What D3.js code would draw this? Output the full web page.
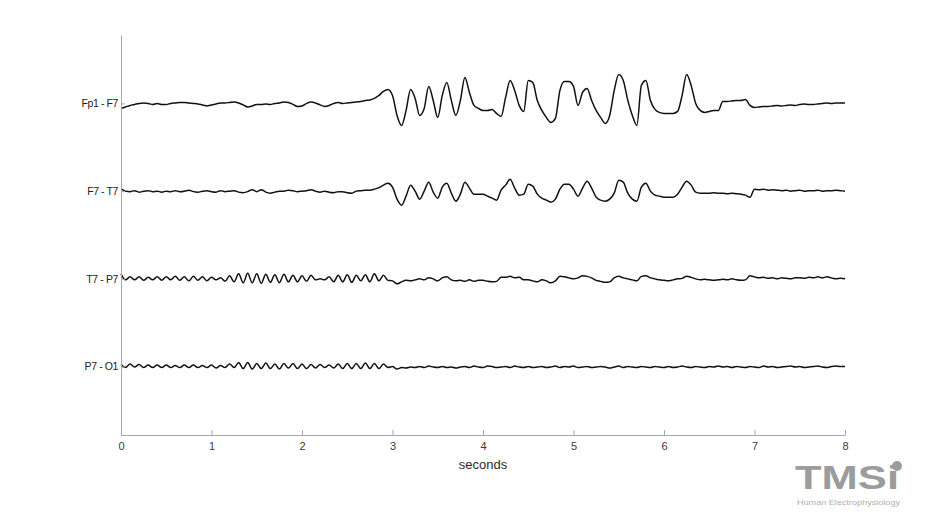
<!DOCTYPE html>
<html>
<head>
<meta charset="utf-8">
<script src="https://cdn.jsdelivr.net/npm/d3@7"></script>
<style>
  body { margin: 0; background: #fff; }
  text { font-family: "Liberation Sans", Arial, sans-serif; }
</style>
</head>
<body>
<div id="my_dataviz"></div>
<script>
// channel names (top to bottom) and x tick labels
var channels = ["Fp1 - F7", "F7 - T7", "T7 - P7", "P7 - O1"];
var secondsTicks = [0, 1, 2, 3, 4, 5, 6, 7, 8];
var sampleStep = 0.05; // seconds between samples

// amplitude per sample (uV, up = positive)
var fp1F7 = [
  -5, -3.5, -2, -1, 0, 0.5, 0, -1, 0, -1,
  -1, 0, 0.5, 1, 1, 0.5, 0, -0.5, -1.5, -2.5,
  -1.5, -0.5, 0.5, 0.5, 1, 1.5, 0.5, -1.5, -3.5, -2.5,
  -1, -1, -0.5, -1, 0, 0.5, 1.5, 1, -1, -3,
  -2.5, 0, 1.5, 0.5, -1.5, -3, -2, 0, 1, 0,
  0.5, 1, 1.5, 2, 3, 3.5, 5, 8, 12, 14,
  8, -12, -22, -7, 14, 5, -12, -5, 17, 3,
  -14, 8, 21, 3, -12, 3, 26, 11, -2, -5,
  -7, -7, -6, -10, -13, 6, 23, 13, -2, -8,
  23, 21, 3, -7, -14, -19, -15, 13, 22, 22,
  17, -2, 11, 15, 3, -7, -14, -20, -12, 13,
  29, 23, 3, -12, -22, 18, 23, 3, -6, -9,
  -10, -10, -10, -8, 8, 29, 18, 0, -7, -9,
  -8, -7, -7, 2, 2, 2.5, 3, 3, 4, -2,
  -4, -3.5, -3, -3, -2.5, -2, -2.5, -2, -1.5, -2,
  -1, -0.5, -1, -1, -0.5, 0, 0.5, 0, 0.5, 0.5,
  0.5
];
var f7T7 = [
  2.5, 0, -0.5, 0.5, -1, 0, 0.5, -0.5, 0, -1,
  0, -0.5, 0.5, -0.5, 0, 1, -0.5, -1, 0, 0.5,
  -0.5, -1, 0.5, -0.5, 0, 0.5, -1, -1.5, -0.5, 1.5,
  -0.5, 1.5, -1, -2, -1, 0, 0, 1, 0.5, -0.5,
  0, 0.5, 1.5, 0, -1, 0, -1, -1.5, -0.5, -0.5,
  -1.5, -2, 0, 0.5, 1, 1, 2, 3.5, 6, 8,
  4, -8, -14, -5, 6, 0, -8, 0, 9, -1,
  -7, 4, 8, -2, -10, -3, 9, 3, -3, -3,
  -3, -5, -7, -9, 1, 6, 12, 3, -4, -3,
  7, 5, -3, -7, -9, -11, -8, 2, 7, 7,
  2, -5, 3, 10, 3, -6, -9, -10, -8, -2,
  11, 9, -2, -8, -10, 4, 8, 0, -4, -5,
  -6, -6, -6, -3, 4, 10, 6, -1, -2, -2,
  -2, -1.5, -2, -2, -2.5, -2, -2.5, -3, -4, -6,
  2, 1.5, 2, 1, 1.5, 1, 0.5, 1, 0, 0.5,
  1, 0, 0.5, 0.5, 1, 0, 0.5, 0.5, 1, 0.5,
  0
];
var t7P7 = [
  5, -1, 2, -1, 2, -1.5, 1.5, -1, 2, -1.5,
  2, -1, 2.5, -1.5, 2, -2, 2.5, -1.5, 2, -2,
  1.5, -1, 1, -2.5, 3, -3, 5, -4, 5.5, -4,
  5, -4.5, 4.5, -3.5, 4, -4, 4.5, -3, 3.5, -3,
  3, -2.5, 3.5, -1, 0, -1, 2, -3, 3.5, -3,
  4, -3.5, 3.5, -2, 4, -3, 5, -2, 3.5, -1.5,
  -2, -5, -3, -1.5, -2, -1, 0, -1, 1, 0,
  -2, 1, 2, -1, -2, -1.5, -2.5, -1, -2.5, -1.5,
  -1.5, -2.5, -3, -2.5, 1.5, 1.5, 2.5, 1, 1.5, -1,
  -1, -2, -3, -1, -2, -4, -2, 2.5, 2, 1,
  0, 1, 3, 2.5, 1, -1.5, -2.5, -3.5, -3, 1,
  2.5, 1, 0, -1, -2, 2.5, 3, 1, 0, -1,
  -1.5, -2, -1, 0, 0.5, 2.5, 1.5, 0, -1, -0.5,
  -1, -1.5, -1, -0.5, -1, 0, -1, -1.5, -1, 3,
  2, 1, 1.5, 0.5, 1, 0, 1, 0.5, 0, 1,
  1, 0.5, 1.5, 1, 2, 1, 2, 1, 0, 0.5,
  0
];
var p7O1 = [
  2, -1, 2.5, -0.5, 2, -1, 1.5, -1, 1.5, -1,
  1.5, -1, 1, -1, 1.5, -1, 1.5, -1, 1, -1,
  1.5, -1.5, 1, -1, 2.5, -1, 4, -2, 4, -2.5,
  3, -2, 3.5, -2, 2.5, -2.5, 3, -1.5, 3, -2,
  2.5, -2, 2, -1.5, 2, -1, 1.5, -1.5, 2.5, -2,
  3, -2, 3, -2, 3.5, -2, 3, -2, 2.5, -1,
  0, -2.5, -1, -1.5, -0.5, -1, 0, -1, 0.5, -0.5,
  -1, 0, -1, -0.5, -1.5, -0.5, 0, -1, 0.5, -0.5,
  -1, 0.5, 0, -1, -0.5, 0, -1, 0.5, -0.5, -1,
  0, -1, -0.5, 0, -1, -0.5, 0.5, -1, 0, -0.5,
  0.5, -1, -0.5, 0, -1, -0.5, 0, -0.5, -1.5, -0.5,
  0.5, -1, 0, -0.5, -1, 0, -0.5, -1, 0, -0.5,
  -1, 0, -1, -0.5, 0.5, -0.5, -1, 0, -0.5, -1,
  0, -0.5, 0.5, -0.5, 0, -1, 0, -0.5, -1, 0,
  -0.5, -1, 0.5, -0.5, 0, -1, -0.5, 0, 0.5, -0.5,
  0, -1, -0.5, 0, 0.5, -0.5, -1, 0, 0.5, 0,
  0
];

var traces = [fp1F7, f7T7, t7P7, p7O1];

var totalWidth = 933, totalHeight = 522;

var svg = d3.select("#my_dataviz")
  .append("svg")
    .attr("width", totalWidth)
    .attr("height", totalHeight);

svg.append("rect")
  .attr("width", totalWidth)
  .attr("height", totalHeight)
  .attr("fill", "#fff");

var x = d3.scaleLinear()
  .domain([0, 8])
  .range([121, 845]);

// one row per channel, axis spans the full plot height
var y = d3.scalePoint()
  .domain(channels)
  .range([35, 435])
  .padding(0.78);

// amplitude around each channel's baseline
var amp = d3.scaleLinear()
  .domain([-50, 50])
  .range([50, -50]);

var line = d3.line()
  .x(function(d) { return x(d.t); })
  .y(function(d) { return d.base + amp(d.v); })
  .curve(d3.curveMonotoneX);

// traces
traces.forEach(function(values, k) {
  var base = y(channels[k]);
  var pts = values.map(function(v, i) {
    return { t: i * sampleStep, v: v, base: base };
  });
  svg.append("path")
    .datum(pts)
    .attr("d", line)
    .attr("fill", "none")
    .attr("stroke", "#111")
    .attr("stroke-width", 1.5)
    .attr("stroke-linejoin", "round");
});

// x axis (ticks pointing inward, MATLAB style)
var xAxis = svg.append("g")
  .attr("transform", "translate(0,435)")
  .call(d3.axisBottom(x)
    .tickValues(secondsTicks)
    .tickFormat(d3.format("d"))
    .tickSizeInner(-5)
    .tickSizeOuter(0)
    .tickPadding(7));

xAxis.select(".domain").attr("stroke", "#a8a8a8");
xAxis.selectAll(".tick line").attr("stroke", "#a8a8a8");
xAxis.selectAll(".tick text")
  .attr("fill", "#3a3a3a")
  .style("font-size", "11px")
  .style("font-family", "'Liberation Sans', Arial, sans-serif");

svg.append("text")
  .attr("x", x(4))
  .attr("y", 469)
  .attr("text-anchor", "middle")
  .attr("fill", "#2a2a2a")
  .style("font-size", "13px")
  .text("seconds");

// y axis with channel labels
var yAxis = svg.append("g")
  .attr("transform", "translate(121,0)")
  .call(d3.axisLeft(y)
    .tickSizeInner(-4)
    .tickSizeOuter(0)
    .tickPadding(3));

yAxis.select(".domain").attr("stroke", "#a8a8a8");
yAxis.selectAll(".tick line").attr("stroke", "#a8a8a8");
yAxis.selectAll(".tick text")
  .attr("fill", "#222")
  .style("font-size", "10.5px")
  .style("letter-spacing", "-0.4px")
  .style("font-family", "'Liberation Sans', Arial, sans-serif");

// TMSi logo
var logo = svg.append("g").attr("fill", "#9c9c9c");
logo.append("text")
  .attr("x", 795)
  .attr("y", 489)
  .attr("textLength", 104)
  .attr("lengthAdjust", "spacingAndGlyphs")
  .style("font-size", "34px")
  .style("font-weight", "bold")
  .text("TMSi");
logo.append("circle")
  .attr("cx", 897)
  .attr("cy", 466)
  .attr("r", 5);
logo.append("text")
  .attr("x", 797)
  .attr("y", 505)
  .attr("textLength", 103)
  .attr("lengthAdjust", "spacingAndGlyphs")
  .attr("fill", "#b0b0b0")
  .style("font-size", "7px")
  .text("Human Electrophysiology");
</script>
</body>
</html>
